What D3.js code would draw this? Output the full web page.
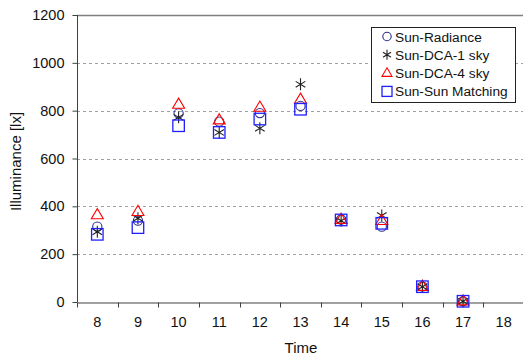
<!DOCTYPE html>
<html>
<head>
<meta charset="utf-8">
<script src="https://cdn.jsdelivr.net/npm/d3@7"></script>
<style>
  html, body { margin: 0; padding: 0; background: #fff; }
  svg { display: block; font-family: "Liberation Sans", Arial, sans-serif; }
</style>
</head>
<body>
<svg id="chart" width="523" height="357"></svg>
<script>
// Hourly illuminance for four simulation methods
const hours = ["8", "9", "10", "11", "12", "13", "14", "15", "16", "17", "18"];
const sunRadiance   = [315, 340, 789, 754, 790, 820, 345, 315, 65, 3, null];
const sunDca1       = [294, 350, 772, 709, 726, 910, 340, 362, 64, 3, null];
const sunDca4       = [364, 378, 826, 761, 814, 847, 345, 340, 65, 4, null];
const sunSunMatch   = [283, 311, 737, 709, 765, 806, 343, 329, 64, 3, null];
const yTicks = [0, 200, 400, 600, 800, 1000, 1200];

const seriesNames = ["Sun-Radiance", "Sun-DCA-1 sky", "Sun-DCA-4 sky", "Sun-Sun Matching"];
const seriesValues = [sunRadiance, sunDca1, sunDca4, sunSunMatch];
const seriesShapes = ["circle", "asterisk", "triangle", "square"];
const seriesColors = ["#2b2b8c", "#222222", "#ff0000", "#1f1fff"];

const svg = d3.select("#chart");
const margin = { left: 77, right: -1, top: 15, bottom: 55 };
const W = 523, H = 357;

const x = d3.scaleBand().domain(hours).range([margin.left, W - margin.right]);
const y = d3.scaleLinear().domain([0, 1200]).range([H - margin.bottom, margin.top]);

// dashed gridlines
svg.append("g")
  .selectAll("line")
  .data(yTicks.filter(t => t > 0 && t < 1200))
  .join("line")
  .attr("x1", margin.left).attr("x2", W)
  .attr("y1", d => Math.round(y(d)) + 0.5).attr("y2", d => Math.round(y(d)) + 0.5)
  .attr("stroke", "#a0a0a0").attr("stroke-dasharray", "3,3").attr("stroke-width", 1);

// top frame line
svg.append("line")
  .attr("x1", margin.left).attr("x2", W)
  .attr("y1", Math.round(y(1200)) + 0.5).attr("y2", Math.round(y(1200)) + 0.5)
  .attr("stroke", "#808080").attr("stroke-width", 1.5);

// axes
const xAxis = svg.append("g")
  .attr("transform", `translate(0,${Math.round(y(0)) + 0.5})`)
  .call(d3.axisBottom(x).tickSize(0).tickPadding(14));
xAxis.select(".domain").attr("stroke", "#404040");
xAxis.selectAll("text").attr("font-size", 14.5).attr("fill", "#111")
  .attr("font-family", "Liberation Sans, Arial, sans-serif");
// x tick marks at band boundaries
xAxis.append("g").selectAll("line")
  .data(hours)
  .join("line")
  .attr("x1", d => Math.round(x(d)) + 0.5).attr("x2", d => Math.round(x(d)) + 0.5)
  .attr("y1", 0).attr("y2", 5)
  .attr("stroke", "#404040");

const yAxis = svg.append("g")
  .attr("transform", `translate(${margin.left + 0.5},0)`)
  .call(d3.axisLeft(y).tickValues(yTicks).tickFormat(d3.format("d")).tickSize(5).tickPadding(8));
yAxis.select(".domain").attr("stroke", "#404040").attr("d", `M0,${y(1200)}V${y(0)}`);
yAxis.selectAll(".tick line").attr("stroke", "#404040");
yAxis.selectAll("text").attr("font-size", 14.5).attr("fill", "#111")
  .attr("font-family", "Liberation Sans, Arial, sans-serif");

// axis titles
svg.append("text")
  .attr("x", (margin.left + W) / 2 + 1).attr("y", 353)
  .attr("text-anchor", "middle").attr("font-size", 15).attr("fill", "#111")
  .text("Time");
svg.append("text")
  .attr("transform", `translate(21,${(y(0) + y(1200)) / 2 + 3}) rotate(-90)`)
  .attr("text-anchor", "middle").attr("font-size", 15).attr("fill", "#111")
  .text("Illuminance [lx]");

// marker drawing
function drawMarker(g, shape, color, s) {
  if (shape === "circle") {
    g.append("circle").attr("r", s * 0.42).attr("fill", "none").attr("stroke", color).attr("stroke-width", 1.1);
  } else if (shape === "square") {
    g.append("rect").attr("x", -s / 2).attr("y", -s / 2).attr("width", s).attr("height", s)
      .attr("fill", "none").attr("stroke", color).attr("stroke-width", 1.3);
  } else if (shape === "triangle") {
    const h = s * 0.85;
    g.append("path").attr("d", `M0,${-h * 0.62}L${s * 0.5},${h * 0.38}L${-s * 0.5},${h * 0.38}Z`)
      .attr("fill", "none").attr("stroke", color).attr("stroke-width", 1.1);
  } else if (shape === "asterisk") {
    const r = s * 0.5;
    const a = r * 0.8;
    g.append("path")
      .attr("d", `M0,${-r}V${r}M${-a},${-a * 0.62}L${a},${a * 0.62}M${-a},${a * 0.62}L${a},${-a * 0.62}`)
      .attr("fill", "none").attr("stroke", color).attr("stroke-width", 1.1);
  }
}

const markerSize = { circle: 11, asterisk: 12, triangle: 12, square: 11.5 };
const plot = svg.append("g");
seriesValues.forEach((vals, si) => {
  vals.forEach((v, i) => {
    if (v == null) return;
    const g = plot.append("g")
      .attr("transform", `translate(${x(hours[i]) + x.bandwidth() / 2},${y(v)})`);
    drawMarker(g, seriesShapes[si], seriesColors[si], markerSize[seriesShapes[si]]);
  });
});

// legend
const lg = svg.append("g").attr("transform", "translate(371,27)");
lg.append("rect").attr("x", 0.5).attr("y", 0.5).attr("width", 144).attr("height", 75)
  .attr("fill", "#fff").attr("stroke", "#222").attr("stroke-width", 1);
seriesNames.forEach((name, i) => {
  const cy = 9.5 + i * 18.3;
  const g = lg.append("g").attr("transform", `translate(16,${cy})`);
  drawMarker(g, seriesShapes[i], seriesColors[i], 10);
  lg.append("text").attr("x", 24).attr("y", cy + 5)
    .attr("font-size", 13.7).attr("fill", "#111").text(name);
});
</script>
</body>
</html>
